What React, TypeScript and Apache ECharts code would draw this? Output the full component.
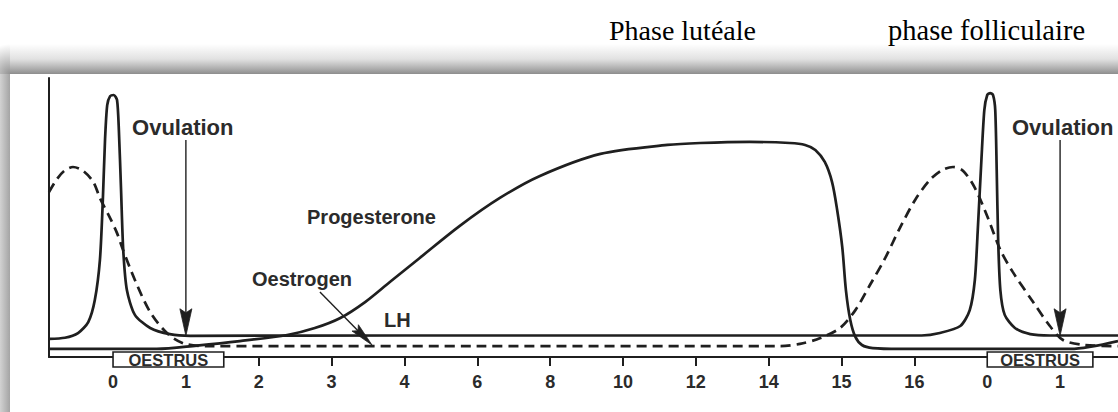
import React, { useEffect, useRef } from "react";
import * as echarts from "echarts";

// x positions are in "tick index" units (0 = first label, 13 = last label)
const TICK_LABELS = ["0", "1", "2", "3", "4", "6", "8", "10", "12", "14", "15", "16", "0", "1"];
const TICK_MARKS = [2, 3, 4, 5, 6, 7, 8, 9, 10, 11];
const X_MIN = -0.879;
const X_MAX = 13.795;

// relative hormone level (0-100)
const LH: [number, number][] = [
  [-0.879, 6.5], [-0.66, 6.9], [-0.48, 8.6], [-0.34, 12.5], [-0.25, 20.4], [-0.18, 34.8],
  [-0.14, 56.3], [-0.11, 77.8], [-0.08, 90.3], [-0.04, 93.5], [0.01, 93.9], [0.055, 92.1],
  [0.08, 81.4], [0.11, 59.9], [0.14, 38.4], [0.19, 24.0], [0.3, 15.1], [0.51, 10.4],
  [0.78, 8.2], [1.06, 7.6], [4.0, 7.7], [8.0, 7.7], [11.1, 7.7], [11.35, 8.6], [11.63, 11.1],
  [11.76, 16.8], [11.83, 27.6], [11.87, 45.5], [11.92, 70.6], [11.96, 88.5], [12.0, 93.9],
  [12.04, 94.6], [12.08, 93.9], [12.11, 88.5], [12.13, 67.0], [12.15, 41.9], [12.18, 24.0],
  [12.24, 15.1], [12.38, 10.4], [12.59, 8.2], [12.86, 7.7], [13.795, 7.7],
];

const OESTROGEN: [number, number][] = [
  [-0.879, 59.1], [-0.78, 63.4], [-0.67, 66.7], [-0.55, 68.1], [-0.41, 66.7], [-0.27, 62.7],
  [-0.18, 57.0], [-0.04, 49.8], [0.055, 44.4], [0.137, 38.4], [0.3, 27.6], [0.51, 16.1],
  [0.755, 8.2], [0.99, 4.7], [1.33, 3.9], [5.0, 3.9], [9.16, 3.9], [9.43, 4.7], [9.71, 6.8],
  [9.98, 10.4], [10.19, 16.8], [10.39, 25.8], [10.6, 35.5], [10.8, 46.2], [11.01, 56.3],
  [11.21, 63.4], [11.38, 67.0], [11.53, 68.1], [11.67, 66.7], [11.83, 60.6], [12.01, 49.8],
  [12.18, 38.4], [12.35, 30.5], [12.63, 19.7], [12.86, 11.1], [13.04, 6.1], [13.34, 4.3],
  [13.795, 3.9],
];

const PROGESTERONE: [number, number][] = [
  [-0.879, 2.9], [0.6, 2.9], [1.15, 4.1], [1.74, 5.7], [2.39, 7.9], [2.77, 10.4], [3.12, 14.0],
  [3.46, 19.7], [3.8, 26.9], [4.21, 35.5], [4.76, 47.0], [5.31, 57.0], [5.86, 64.9],
  [6.69, 72.8], [7.61, 76.0], [8.06, 76.7], [8.74, 77.1], [9.29, 76.7], [9.5, 76.0], [9.64, 74.2],
  [9.77, 69.9], [9.87, 62.7], [9.94, 52.7], [10.01, 39.4], [10.06, 24.0], [10.12, 13.3],
  [10.19, 7.2], [10.28, 4.3], [10.43, 3.2], [10.8, 2.9], [13.14, 2.9], [13.795, 5.7],
];

const OESTRUS_SPANS: [number, number][] = [[0, 1.52], [12, 13.45]];
const OVULATION_X = [1, 13];
const OVULATION_TOP = 77.8;
const LH_BASE = 7.6;

const CURVE_LABELS: { text: string; at: [number, number]; size: number }[] = [
  { text: "Ovulation", at: [0.261, 82.4], size: 22 },
  { text: "Ovulation", at: [12.34, 82.1], size: 22 },
  { text: "Progesterone", at: [2.663, 50.2], size: 20 },
  { text: "Oestrogen", at: [1.908, 28.0], size: 20 },
  { text: "LH", at: [3.72, 13.3], size: 20 },
];
const OESTROGEN_POINTER: [[number, number], [number, number]] = [[2.84, 23.3], [3.555, 4.3]];

const INK = "#1f1f1f";
const TEXT_INK = "#2b2b2b";
const SANS = '"Liberation Sans", Arial, sans-serif';
const SERIF = '"Liberation Serif", "Times New Roman", serif';

function txt(text: string, x: number, y: number, font: string, fill: string, align = "left", z = 60) {
  return {
    type: "text",
    z,
    x,
    y,
    style: {
      text,
      font,
      fill,
      align,
      verticalAlign: "middle",
      textAlign: align,
      textVerticalAlign: "middle",
    },
  };
}

export default function App() {
  const ref = useRef<HTMLDivElement>(null);

  useEffect(() => {
    if (!ref.current) return;
    const chart = echarts.init(ref.current, null, { renderer: "svg", width: 1118, height: 412 });

    const lineSeries = (name: string, data: [number, number][], dashed: boolean, z: number, smooth: number) => ({
      name,
      type: "line",
      data,
      showSymbol: false,
      symbol: "none",
      smooth,
      clip: false,
      z,
      lineStyle: {
        color: INK,
        width: 2.7,
        type: dashed ? [10, 6] : "solid",
        cap: "butt",
      },
    });

    chart.setOption({
      animation: false,
      backgroundColor: "#ffffff",
      grid: { left: 49, right: 0, top: 78, bottom: 55, containLabel: false },
      xAxis: {
        type: "value",
        min: X_MIN,
        max: X_MAX,
        axisLine: { show: true, onZero: false, lineStyle: { color: INK, width: 2 } },
        axisTick: {
          show: true,
          customValues: TICK_MARKS,
          length: 9,
          lineStyle: { color: INK, width: 2 },
        },
        axisLabel: {
          show: true,
          customValues: TICK_LABELS.map((_, i) => i),
          formatter: (v: number) => TICK_LABELS[Math.round(v)] ?? "",
          margin: 16,
          fontSize: 18,
          fontWeight: "bold",
          fontFamily: SANS,
          color: TEXT_INK,
        },
        splitLine: { show: false },
      },
      yAxis: {
        type: "value",
        min: 0,
        max: 100,
        axisLine: { show: true, onZero: false, lineStyle: { color: INK, width: 2 } },
        axisTick: { show: false },
        axisLabel: { show: false },
        splitLine: { show: false },
      },
      series: [
        lineSeries("Progesterone", PROGESTERONE, false, 3, 0.3),
        lineSeries("LH", LH, false, 4, 0.25),
        lineSeries("Oestrogen", OESTROGEN, true, 5, 0.3),
      ],
    });

    const px = (p: [number, number]) => chart.convertToPixel({ gridIndex: 0 }, p) as number[];

    const arrow = (from: [number, number], to: [number, number], headLen: number, headW: number) => {
      const a = px(from);
      const b = px(to);
      const dx = b[0] - a[0];
      const dy = b[1] - a[1];
      const len = Math.hypot(dx, dy) || 1;
      const ux = dx / len;
      const uy = dy / len;
      const bx = b[0] - ux * headLen;
      const by = b[1] - uy * headLen;
      const nx = -uy * (headW / 2);
      const ny = ux * (headW / 2);
      return [
        {
          type: "line",
          z: 55,
          shape: { x1: a[0], y1: a[1], x2: bx + ux * 4, y2: by + uy * 4 },
          style: { stroke: INK, lineWidth: 1.4 },
        },
        {
          type: "polygon",
          z: 55,
          shape: { points: [[b[0], b[1]], [bx + nx, by + ny], [bx + ux * 4, by + uy * 4], [bx - nx, by - ny]] },
          style: { fill: INK, stroke: INK, lineWidth: 0.8 },
        },
      ];
    };

    const axisY = px([0, 0])[1];
    const graphics: any[] = [];

    // scan frame shadow
    graphics.push({
      type: "rect",
      z: 1,
      shape: { x: 10, y: 44, width: 1108, height: 30 },
      style: {
        fill: {
          type: "linear", x: 0, y: 0, x2: 0, y2: 1,
          colorStops: [
            { offset: 0, color: "rgba(150,150,150,0)" },
            { offset: 0.5, color: "rgba(150,150,150,0.28)" },
            { offset: 1, color: "rgba(135,135,135,0.95)" },
          ],
        },
      },
    });
    graphics.push({
      type: "rect",
      z: 1,
      shape: { x: 0, y: 74, width: 10, height: 338 },
      style: {
        fill: {
          type: "linear", x: 0, y: 0, x2: 1, y2: 0,
          colorStops: [
            { offset: 0, color: "#d2d2d2" },
            { offset: 1, color: "#a4a4a4" },
          ],
        },
      },
    });
    graphics.push({
      type: "rect",
      z: 1,
      shape: { x: 0, y: 44, width: 10, height: 30 },
      style: {
        fill: {
          type: "radial", x: 10, y: 74, r: 30, global: true,
          colorStops: [
            { offset: 0, color: "rgba(140,140,140,0.95)" },
            { offset: 1, color: "rgba(150,150,150,0)" },
          ],
        },
      },
    });

    // titles
    graphics.push(txt("Phase lutéale", 609, 30, `28px ${SERIF}`, "#000"));
    graphics.push(txt("phase folliculaire", 888, 30, `28.5px ${SERIF}`, "#000"));

    // ovulation arrows
    OVULATION_X.forEach((x) => {
      graphics.push(...arrow([x, OVULATION_TOP], [x, LH_BASE], 27, 12));
    });
    // oestrogen pointer
    graphics.push(...arrow(OESTROGEN_POINTER[0], OESTROGEN_POINTER[1], 24, 9));

    // curve labels
    CURVE_LABELS.forEach((l) => {
      const p = px(l.at);
      graphics.push(txt(l.text, p[0], p[1], `bold ${l.size}px ${SANS}`, TEXT_INK));
    });

    // oestrus boxes
    OESTRUS_SPANS.forEach(([a, b]) => {
      const x1 = px([a, 0])[0];
      const x2 = px([b, 0])[0];
      graphics.push({
        type: "rect",
        z: 70,
        shape: { x: x1, y: axisY - 5, width: x2 - x1, height: 15 },
        style: { fill: "#ffffff", stroke: INK, lineWidth: 1.6 },
      });
      graphics.push(txt("OESTRUS", (x1 + x2) / 2, axisY + 3, `bold 16.5px ${SANS}`, TEXT_INK, "center", 71));
    });

    chart.setOption({ graphic: graphics });

    return () => chart.dispose();
  }, []);

  return (
    <div
      ref={ref}
      style={{ position: "fixed", left: 0, top: 0, width: 1118, height: 412, background: "#fff" }}
    />
  );
}
